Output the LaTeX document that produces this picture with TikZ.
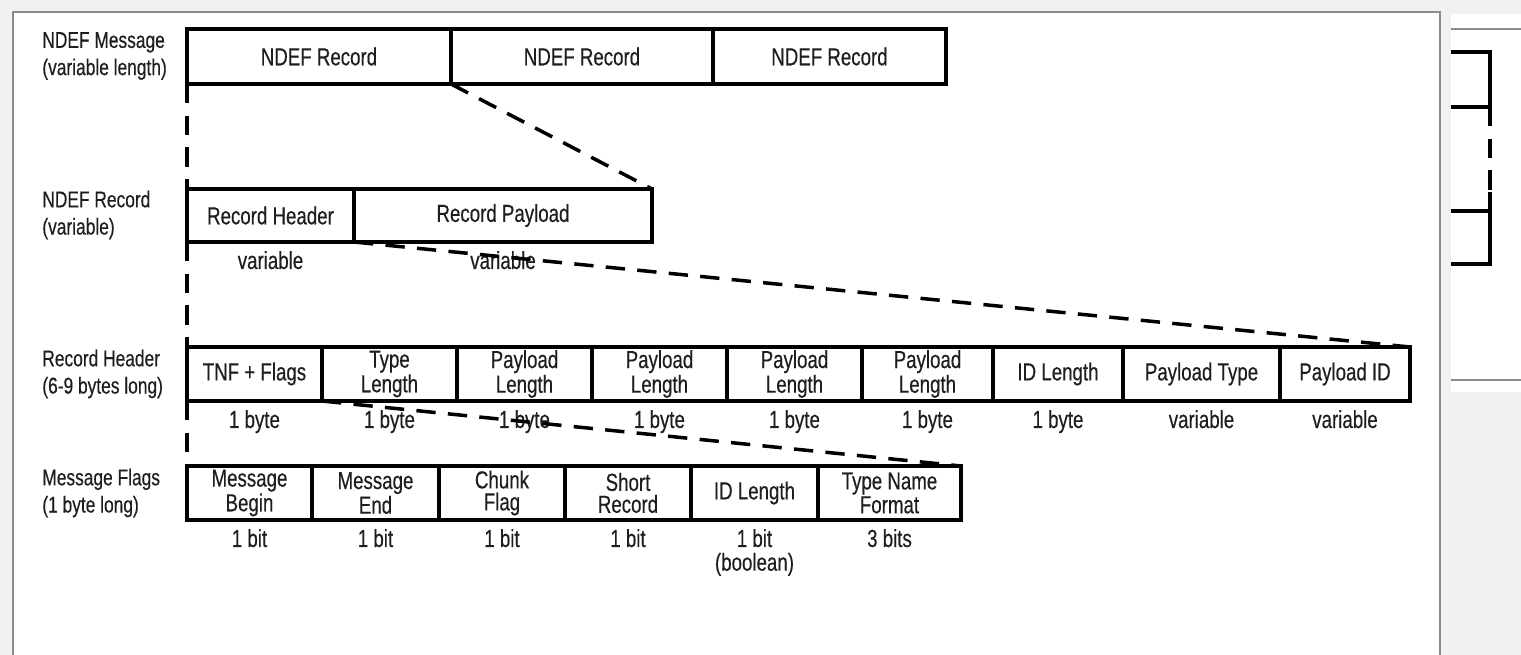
\documentclass[tikz,border=0pt]{standalone}
\usepackage{fontspec}
\setmainfont[FakeStretch=0.76,FakeBold=0.35]{Liberation Sans}
\usepackage[svgnames]{xcolor}
\usetikzlibrary{positioning}
\definecolor{framegray}{HTML}{8C8C8C}
\definecolor{pagegray}{HTML}{F1F1F1}
\definecolor{inkgray}{HTML}{1E1E1E}
\tikzstyle{field}=[rectangle,draw=Black,line width=2pt,inner sep=0pt,outer sep=0pt,anchor=north west,align=center,text=inkgray,font=\fontsize{14}{12.5}\selectfont]
\tikzstyle{rowlabel}=[anchor=west,align=left,inner sep=0pt,text=inkgray,font=\fontsize{13}{15.5}\selectfont]
\tikzstyle{size}=[inner sep=0pt,align=center,text=inkgray,font=\fontsize{14}{13.5}\selectfont]
\tikzstyle{zoomline}=[draw=Black,line width=2pt,dash pattern=on 11pt off 7pt]
\tikzstyle{edgeline}=[draw=Black,line width=2pt]
\tikzset{cell/.style 2 args={minimum width=#1*0.02cm,minimum height=#2*0.02cm}}

\begin{document}
\begin{tikzpicture}[x=0.02cm,y=-0.02cm]
    \useasboundingbox (0,0) rectangle (1521,655);
    % page and frame
    \fill[pagegray] (0,0) rectangle (1521,655);
    \fill[white] (13,12) rectangle (1440,655);
    \draw[framegray,line width=0.8pt] (13,660) -- (13,12) -- (1440,12) -- (1440,660);

    % NDEF message
    \node[rowlabel] (msgLabel) at (42,56) {NDEF Message\\(variable length)};
    \node[field, cell={264}{55}] (msg1) at (187,29) {NDEF Record};
    \node[field, cell={262}{55}] (msg2) at (451,29) {NDEF Record};
    \node[field, cell={233}{55}] (msg3) at (713,29) {NDEF Record};

    % NDEF record
    \node[rowlabel] (recLabel) at (42,215) {NDEF Record\\(variable)};
    \node[field, cell={167}{53}] (recHead) at (187,189) {Record Header};
    \node[field, cell={298}{53}] (recPay) at (354,189) {Record Payload};
    \node[size, below=5pt of recHead] (recHeadSize) {variable};
    \node[size, below=5pt of recPay] (recPaySize) {variable};

    % record header
    \node[rowlabel] (headLabel) at (42,374) {Record Header\\(6-9 bytes long)};
    \node[field, cell={135}{54}] (tnf) at (187,347) {TNF + Flags};
    \node[field, cell={135}{54}] (typeLen) at (322,347) {Type\\Length};
    \node[field, cell={135}{54}] (payLenA) at (457,347) {Payload\\Length};
    \node[field, cell={135}{54}] (payLenB) at (592,347) {Payload\\Length};
    \node[field, cell={135}{54}] (payLenC) at (727,347) {Payload\\Length};
    \node[field, cell={131}{54}] (payLenD) at (862,347) {Payload\\Length};
    \node[field, cell={130}{54}] (idLen) at (993,347) {ID Length};
    \node[field, cell={157}{54}] (payType) at (1123,347) {Payload Type};
    \node[field, cell={130}{54}] (payId) at (1280,347) {Payload ID};
    \node[size, below=5pt of tnf] (tnfSize) {1 byte};
    \node[size, below=5pt of typeLen] (typeLenSize) {1 byte};
    \node[size, below=5pt of payLenA] (payLenASize) {1 byte};
    \node[size, below=5pt of payLenB] (payLenBSize) {1 byte};
    \node[size, below=5pt of payLenC] (payLenCSize) {1 byte};
    \node[size, below=5pt of payLenD] (payLenDSize) {1 byte};
    \node[size, below=5pt of idLen] (idLenSize) {1 byte};
    \node[size, below=5pt of payType] (payTypeSize) {variable};
    \node[size, below=5pt of payId] (payIdSize) {variable};

    % message flags
    \node[rowlabel] (flagLabel) at (42,493) {Message Flags\\(1 byte long)};
    \node[field, cell={125}{54}] (msgBegin) at (187,466) {Message\\Begin};
    \node[field, cell={127}{54}] (msgEnd) at (312,466) {Message\\End};
    \node[field, cell={126}{54}] (chunk) at (439,466) {Chunk\\Flag};
    \node[field, cell={126}{54}] (short) at (565,466) {Short\\Record};
    \node[field, cell={127}{54}] (idFlag) at (691,466) {ID Length};
    \node[field, cell={143}{54}] (tnfFmt) at (818,466) {Type Name\\Format};
    \node[size, below=5pt of msgBegin] (msgBeginSize) {1 bit};
    \node[size, below=5pt of msgEnd] (msgEndSize) {1 bit};
    \node[size, below=5pt of chunk] (chunkSize) {1 bit};
    \node[size, below=5pt of short] (shortSize) {1 bit};
    \node[size, below=5pt of idFlag] (idFlagSize) {1 bit\\(boolean)};
    \node[size, below=5pt of tnfFmt] (tnfFmtSize) {3 bits};

    % zoom lines
    \draw[zoomline] (msg1.south east) -- (recPay.north east);
    \draw[zoomline] (msg1.south west) -- (recHead.north west);
    \draw[zoomline] (recHead.south east) -- (payId.north east);
    \draw[zoomline] (recHead.south west) -- (tnf.north west);
    \draw[zoomline] (tnf.south east) -- (tnfFmt.north east);
    \draw[zoomline] (tnf.south west) -- (msgBegin.north west);

    % cut-off neighbour figure
    \fill[white] (1451,14) rectangle (1521,392);
    \draw[framegray,line width=0.8pt] (1451,29) -- (1521,29);
    \draw[framegray,line width=0.8pt] (1451,380) -- (1521,380);
    \draw[edgeline] (1451,52) -- (1490,52) -- (1490,107) -- (1451,107);
    \draw[zoomline] (1490,107) -- (1490,192);
    \draw[edgeline] (1490,192) -- (1490,264) -- (1451,264);
    \draw[edgeline] (1451,211) -- (1490,211);
\end{tikzpicture}
\end{document}
